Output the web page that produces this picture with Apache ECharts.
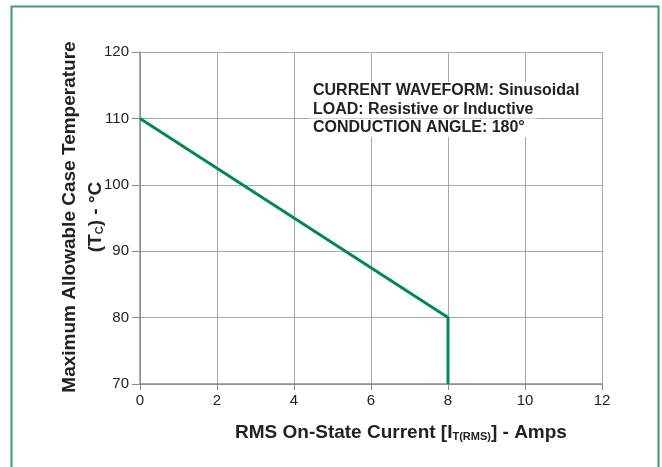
<!DOCTYPE html>
<html>
<head>
<meta charset="utf-8">
<script src="https://cdn.jsdelivr.net/npm/echarts@6/dist/echarts.min.js"></script>
<style>
html, body { margin: 0; padding: 0; background: #fff; }
#chart { width: 662px; height: 467px; }
</style>
</head>
<body>
<div id="chart"></div>
<script>
var currentAmps = [0, 8, 8]
var caseTemp = [110, 80, 70]
var xTicks = [0, 12, 2]
var yTicks = [70, 120, 10]
var noteLines = [
  'CURRENT WAVEFORM: Sinusoidal',
  'LOAD: Resistive or Inductive',
  'CONDUCTION ANGLE: 180°'
]

var font = 'Liberation Sans, Arial, Helvetica, sans-serif'
var lineData = currentAmps.map(function(x, i) { return [x, caseTemp[i]] })

// one white-backed text per note line, so grid shows between lines
var noteTexts = noteLines.map(function(t, i) {
  return {
    type: 'text',
    left: 309, top: 82 + i * 18.5,
    z: 11,
    style: {
      text: t,
      font: 'bold 16px ' + font,
      fill: '#222',
      backgroundColor: '#fff',
      padding: [1, 4, 1, 4]
    }
  }
})

var option = {
  animation: false,
  grid: { left: 140, top: 52, width: 462, height: 332, containLabel: false },
  xAxis: {
    type: 'value',
    min: xTicks[0],
    max: xTicks[1],
    interval: xTicks[2],
    axisLine: { show: true, lineStyle: { color: '#8c8c8c', width: 1.5 } },
    axisTick: { show: true, length: 6, lineStyle: { color: '#8c8c8c' } },
    axisLabel: { color: '#222', fontSize: 15, fontFamily: font, margin: 9 },
    splitLine: { show: true, lineStyle: { color: '#a8a8a8', width: 1 } }
  },
  yAxis: {
    type: 'value',
    min: yTicks[0],
    max: yTicks[1],
    interval: yTicks[2],
    axisLine: { show: true, lineStyle: { color: '#8c8c8c', width: 1.5 } },
    axisTick: { show: true, length: 8, lineStyle: { color: '#8c8c8c' } },
    axisLabel: { color: '#222', fontSize: 15, fontFamily: font, margin: 11 },
    splitLine: { show: true, lineStyle: { color: '#a8a8a8', width: 1 } }
  },
  graphic: [
    {
      type: 'rect',
      left: 9, top: 4,
      shape: { width: 647, height: 480 },
      style: { fill: 'none', stroke: '#3a9d6c', lineWidth: 2 },
      z: -1
    },
    {
      type: 'text',
      left: 235, top: 423,
      style: {
        text: '{b|RMS On-State Current [I}{s|T(RMS)}{b|] - Amps}',
        rich: {
          b: { font: 'bold 19px ' + font, fill: '#222', verticalAlign: 'bottom' },
          s: { font: 'bold 11px ' + font, fill: '#222', padding: [9, 0, 0, 0], verticalAlign: 'bottom' }
        }
      }
    },
    {
      type: 'text',
      x: 70, y: 217,
      rotation: Math.PI / 2,
      style: {
        text: 'Maximum Allowable Case Temperature',
        font: 'bold 19px ' + font,
        fill: '#222',
        align: 'center',
        verticalAlign: 'middle'
      }
    },
    {
      type: 'text',
      x: 95, y: 217,
      rotation: Math.PI / 2,
      style: {
        text: '{b|(T}{s|C}{b|) - °C}',
        align: 'center',
        verticalAlign: 'middle',
        rich: {
          b: { font: 'bold 19px ' + font, fill: '#222', verticalAlign: 'bottom' },
          s: { font: 'bold 11px ' + font, fill: '#222', padding: [9, 0, 0, 0], verticalAlign: 'bottom' }
        }
      }
    }
  ].concat(noteTexts),
  series: [
    {
      type: 'line',
      data: lineData,
      symbol: 'none',
      lineStyle: { color: '#008a4e', width: 3 },
      z: 5
    }
  ]
}

var chart = echarts.init(document.getElementById('chart'))
chart.setOption(option)
</script>
</body>
</html>
